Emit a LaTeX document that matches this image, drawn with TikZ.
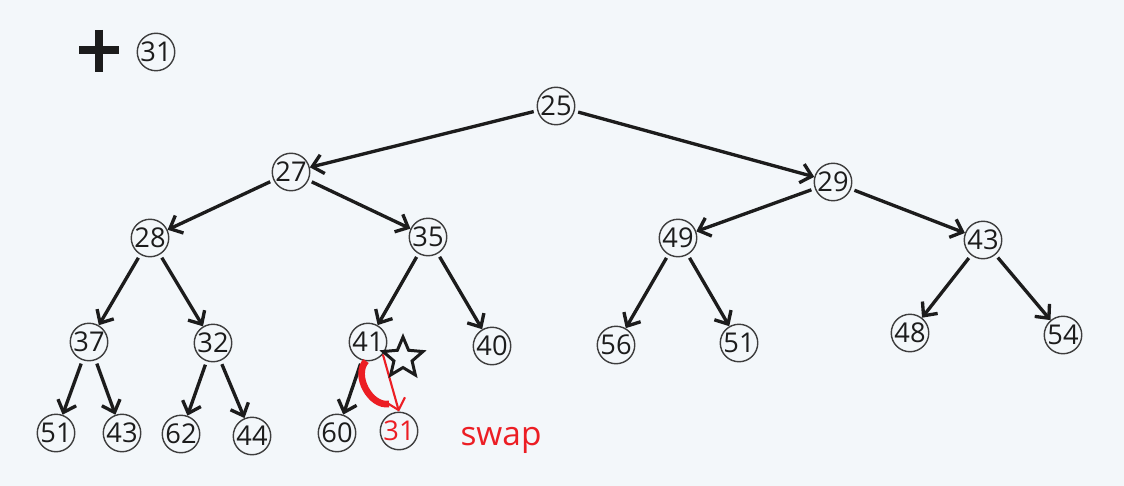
\documentclass[tikz,border=0pt]{standalone}
\usepackage{xcolor}
\usepackage{fontspec}
\setmainfont{Open Sans}
\usepackage{tikz}
\usetikzlibrary{arrows.meta,shapes.geometric}

\definecolor{bgcol}{RGB}{243,247,250}
\definecolor{swapred}{RGB}{236,30,36}
\definecolor{ink}{RGB}{28,28,28}

\begin{document}
\begin{tikzpicture}[x=0.02cm,y=-0.02cm,inner sep=0pt]
        \tikzset{key/.style={circle,draw=ink!85,line width=0.8pt,minimum size=0.75cm,text=ink,font=\fontsize{15.5}{17}\selectfont}};
        \tikzset{link/.style={-{Straight Barb[length=6pt,width=11pt]},line width=1.9pt,draw=ink,shorten <=2pt}};

        \fill [bgcol] (0,0) rectangle (1124,486);

        % the key being inserted
        \draw [ink,line width=4pt] (79,50) -- (119,50) (99,30) -- (99,72);
        \node [key] (new) at (156,52) {31};

        % the heap
        \node [key] (n25) at (556,106) {25};
        \node [key] (n27) at (291,172) {27};
        \node [key] (n29) at (833,182) {29};
        \node [key] (n28) at (150,238) {28};
        \node [key] (n35) at (428,237) {35};
        \node [key] (n49) at (678,238) {49};
        \node [key] (n43) at (983,240) {43};
        \node [key] (n37) at (89,342) {37};
        \node [key] (n32) at (213,343) {32};
        \node [key] (n41) at (368,342) {41};
        \node [key] (n40) at (492,346) {40};
        \node [key] (n56) at (616,345) {56};
        \node [key] (n51) at (739,343) {51};
        \node [key] (n48) at (910,333) {48};
        \node [key] (n54) at (1063,335) {54};
        \node [key] (m51) at (56,433) {51};
        \node [key] (m43) at (122,433) {43};
        \node [key] (n62) at (181,434) {62};
        \node [key] (n44) at (252,436) {44};
        \node [key] (n60) at (337,433) {60};
        \node [key,text=swapred] (n31) at (399,431) {31};

        \draw [link] (n25) -- (n27);
        \draw [link] (n25) -- (n29);
        \draw [link] (n27) -- (n28);
        \draw [link] (n27) -- (n35);
        \draw [link] (n29) -- (n49);
        \draw [link] (n29) -- (n43);
        \draw [link] (n28) -- (n37);
        \draw [link] (n28) -- (n32);
        \draw [link] (n35) -- (n41);
        \draw [link] (n35) -- (n40);
        \draw [link] (n49) -- (n56);
        \draw [link] (n49) -- (n51);
        \draw [link] (n43) -- (n48);
        \draw [link] (n43) -- (n54);
        \draw [link] (n37) -- (m51);
        \draw [link] (n37) -- (m43);
        \draw [link] (n32) -- (n62);
        \draw [link] (n32) -- (n44);
        \draw [link] (n41) -- (n60);
        \draw [link,draw=swapred,line width=1.2pt,shorten <=0pt] (n41.-40) -- (n31.north);

        % swap marker
        \node [star,star points=5,star point ratio=2.2,draw=ink,line width=1.7pt,minimum size=0.84cm] (mark) at (403,358) {};
        \coordinate (swapA) at (366,361);
        \coordinate (swapB) at (389,404);
        \draw [swapred,line width=3.8pt] (swapA) to [bend right=70] (swapB);
        \node [text=swapred,font=\fontsize{19}{22}\selectfont] (swap) at (501,440) {swap};
    \end{tikzpicture}
\end{document}
